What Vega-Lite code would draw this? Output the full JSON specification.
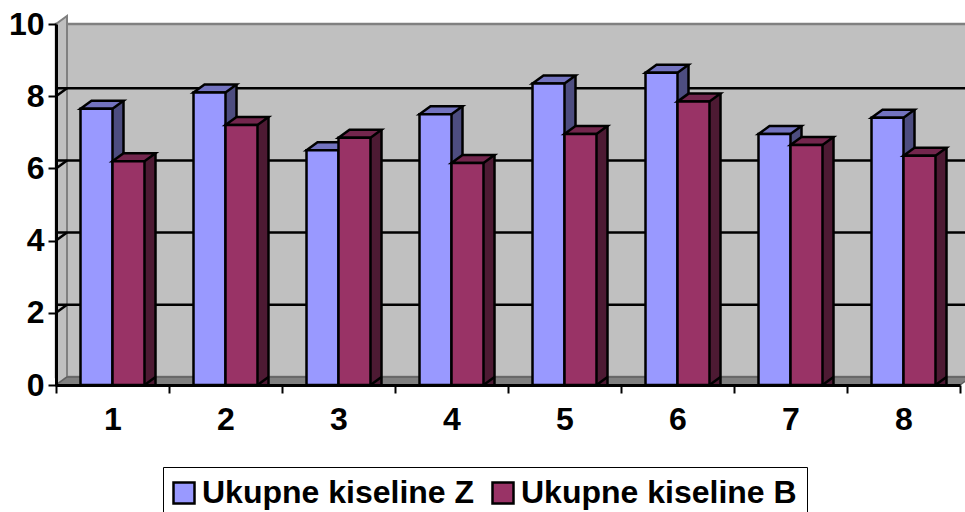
{"$schema":"https://vega.github.io/schema/vega-lite/v6.json","width":904,"height":361,"autosize":"none","padding":{"left":56,"top":24,"right":5,"bottom":127},"background":"white","config":{"view":{"stroke":null},"font":"Liberation Sans"},"datasets":{"bars":[{"cat":1,"series":"Ukupne kiseline Z","value":7.65},{"cat":1,"series":"Ukupne kiseline B","value":6.2},{"cat":2,"series":"Ukupne kiseline Z","value":8.1},{"cat":2,"series":"Ukupne kiseline B","value":7.2},{"cat":3,"series":"Ukupne kiseline Z","value":6.5},{"cat":3,"series":"Ukupne kiseline B","value":6.85},{"cat":4,"series":"Ukupne kiseline Z","value":7.5},{"cat":4,"series":"Ukupne kiseline B","value":6.15},{"cat":5,"series":"Ukupne kiseline Z","value":8.35},{"cat":5,"series":"Ukupne kiseline B","value":6.95},{"cat":6,"series":"Ukupne kiseline Z","value":8.65},{"cat":6,"series":"Ukupne kiseline B","value":7.85},{"cat":7,"series":"Ukupne kiseline Z","value":6.95},{"cat":7,"series":"Ukupne kiseline B","value":6.65},{"cat":8,"series":"Ukupne kiseline Z","value":7.4},{"cat":8,"series":"Ukupne kiseline B","value":6.35}],"one":[{"cat":1}],"grid":[{"cat":1,"tick":2},{"cat":1,"tick":4},{"cat":1,"tick":6},{"cat":1,"tick":8}]},"encoding":{"x":{"field":"cat","type":"ordinal","title":null,"scale":{"type":"band","domain":[1,2,3,4,5,6,7,8],"paddingInner":0,"paddingOuter":0},"axis":{"labelAngle":0,"tickBand":"extent","domainColor":"black","domainWidth":3,"tickColor":"black","tickWidth":2,"tickSize":8,"labelFontSize":32,"labelFontWeight":"bold","labelColor":"black","labelPadding":11,"zindex":1,"grid":false}}},"layer":[{"data":{"name":"one"},"mark":{"type":"rect","fill":"#c0c0c0","stroke":"#808080","strokeWidth":2.5,"xOffset":11,"yOffset":-8},"encoding":{"x":null,"y":{"datum":0,"type":"quantitative","scale":{"domain":[0,10],"nice":false},"title":null,"axis":{"title":null,"values":[0,2,4,6,8,10],"grid":false,"domainColor":"black","domainWidth":3,"tickColor":"black","tickWidth":2,"tickSize":8,"labelFontSize":32,"labelFontWeight":"bold","labelColor":"black","labelPadding":4,"zindex":1}},"y2":{"datum":10}}},{"data":{"name":"one"},"mark":{"type":"point","filled":true,"size":4,"opacity":1,"shape":"M0 0 L0 -361 L11 -369 L11 -8 Z","fill":"#c0c0c0","stroke":"#808080","strokeWidth":2,"xOffset":-56.5},"encoding":{"y":{"datum":0,"type":"quantitative","title":null}}},{"data":{"name":"one"},"mark":{"type":"point","filled":true,"size":4,"opacity":1,"shape":"M0 0 L11 -8 L915 -8 L904 0 Z","fill":"#808080","stroke":"#606060","strokeWidth":1.5,"xOffset":-56.5},"encoding":{"y":{"datum":0,"type":"quantitative","title":null}}},{"data":{"name":"grid"},"mark":{"type":"rule","stroke":"black","strokeWidth":2.5,"xOffset":11,"yOffset":-8},"encoding":{"x":null,"y":{"field":"tick","type":"quantitative","title":null}}},{"data":{"name":"grid"},"mark":{"type":"point","filled":false,"size":4,"opacity":1,"shape":"M0 0 L11 -8","stroke":"black","strokeWidth":2.5,"xOffset":-56.5},"encoding":{"y":{"field":"tick","type":"quantitative","title":null}}},{"data":{"name":"bars"},"transform":[{"filter":"datum.series==='Ukupne kiseline Z'"}],"layer":[{"mark":{"type":"rule","stroke":"#4d4d80","strokeWidth":11,"xOffset":5.5,"yOffset":-8},"encoding":{"y":{"field":"value","type":"quantitative","title":null},"y2":{"datum":0}}},{"mark":{"type":"rule","stroke":"black","strokeWidth":2.5,"xOffset":11,"yOffset":-8},"encoding":{"y":{"field":"value","type":"quantitative","title":null},"y2":{"datum":0}}},{"mark":{"type":"point","filled":true,"size":4,"opacity":1,"shape":"M-16 0 L-5 -8 L27 -8 L16 0 Z","fill":"#7373bf","stroke":"black","strokeWidth":2.5},"encoding":{"xOffset":{"field":"series","type":"nominal","scale":{"domain":["Ukupne kiseline Z","Ukupne kiseline B"],"paddingInner":0,"paddingOuter":0.766}},"y":{"field":"value","type":"quantitative","title":null}}},{"mark":{"type":"bar","stroke":"black","strokeWidth":2.5},"encoding":{"xOffset":{"field":"series","type":"nominal"},"y":{"field":"value","type":"quantitative","title":null},"fill":{"field":"series","type":"nominal","scale":{"domain":["Ukupne kiseline Z","Ukupne kiseline B"],"range":["#9999ff","#993366"]},"legend":{"title":null,"orient":"none","legendX":107,"legendY":443,"direction":"horizontal","strokeColor":"black","symbolType":"square","symbolSize":441,"symbolOffset":-5,"symbolStrokeColor":"black","symbolStrokeWidth":2.5,"labelFont":"Liberation Sans","labelFontSize":32,"labelFontWeight":"bold","labelColor":"black","labelLimit":0,"padding":10,"columnPadding":12,"labelOffset":2}}}}]},{"data":{"name":"bars"},"transform":[{"filter":"datum.series==='Ukupne kiseline B'"}],"layer":[{"mark":{"type":"rule","stroke":"#4d1a33","strokeWidth":11,"xOffset":37.5,"yOffset":-8},"encoding":{"y":{"field":"value","type":"quantitative","title":null},"y2":{"datum":0}}},{"mark":{"type":"rule","stroke":"black","strokeWidth":2.5,"xOffset":43,"yOffset":-8},"encoding":{"y":{"field":"value","type":"quantitative","title":null},"y2":{"datum":0}}},{"mark":{"type":"point","filled":true,"size":4,"opacity":1,"shape":"M16 0 L27 -8 L16 -8 Z","fill":"#4d1a33","strokeWidth":0},"encoding":{"xOffset":{"field":"series","type":"nominal"},"y":{"datum":0,"type":"quantitative","title":null}}},{"mark":{"type":"point","filled":false,"size":4,"opacity":1,"shape":"M16 0 L27 -8","stroke":"black","strokeWidth":2.5},"encoding":{"xOffset":{"field":"series","type":"nominal"},"y":{"datum":0,"type":"quantitative","title":null}}},{"mark":{"type":"point","filled":true,"size":4,"opacity":1,"shape":"M-16 0 L-5 -8 L27 -8 L16 0 Z","fill":"#73264d","stroke":"black","strokeWidth":2.5},"encoding":{"xOffset":{"field":"series","type":"nominal"},"y":{"field":"value","type":"quantitative","title":null}}},{"mark":{"type":"bar","stroke":"black","strokeWidth":2.5},"encoding":{"xOffset":{"field":"series","type":"nominal"},"y":{"field":"value","type":"quantitative","title":null},"fill":{"field":"series","type":"nominal"}}}]}]}
